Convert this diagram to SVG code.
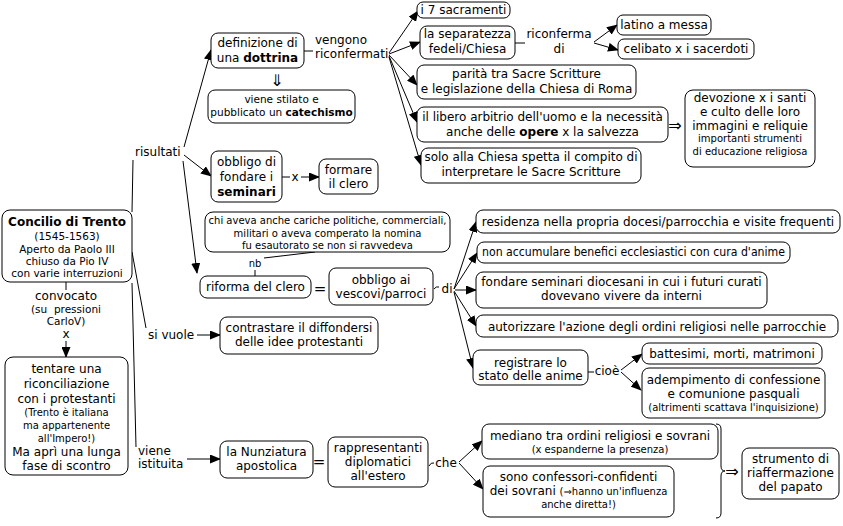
<svg xmlns="http://www.w3.org/2000/svg" width="843" height="526" viewBox="0 0 843 526">
<defs>
<marker id="ah" markerWidth="11" markerHeight="9" refX="10" refY="4.5" orient="auto" markerUnits="userSpaceOnUse"><path d="M0,0 L11,4.5 L0,9 z" fill="#000"/></marker>
<style>
rect{fill:#fff;stroke:#000;stroke-width:1}
text{font-family:"DejaVu Sans",Verdana,sans-serif;font-size:12px;fill:#000}
.c{text-anchor:middle}
.s{font-size:10px}
.m{font-size:10.5px}
.b{font-weight:bold}
.e{font-size:15px}
.ar{font-size:16px}
#conn line,#conn path,#conn polyline{stroke:#000;stroke-width:1;fill:none}
.a{marker-end:url(#ah)}
</style>
</defs>
<rect x="0" y="0" width="843" height="526" style="fill:#fff;stroke:none"/>
<g id="conn">
<line x1="66" y1="282" x2="66" y2="290"/>
<line class="a" x1="66" y1="341" x2="66" y2="357"/>
<line x1="132" y1="212" x2="133" y2="160"/>
<line x1="132" y1="252" x2="146" y2="328"/>
<line x1="132" y1="283" x2="136" y2="447"/>
<line class="a" x1="184" y1="147" x2="211" y2="50"/>
<line class="a" x1="184" y1="155" x2="211" y2="176"/>
<line class="a" x1="183" y1="161" x2="197" y2="273"/>
<line x1="304" y1="51" x2="313" y2="51"/>
<line x1="282" y1="177" x2="290" y2="177"/>
<line class="a" x1="301" y1="177" x2="319" y2="177"/>
<line class="a" x1="389" y1="53" x2="418" y2="11"/>
<line class="a" x1="389" y1="54" x2="420" y2="42"/>
<line class="a" x1="389" y1="55" x2="417" y2="85"/>
<line class="a" x1="389" y1="56" x2="417" y2="122"/>
<line class="a" x1="389" y1="57" x2="421" y2="165"/>
<line x1="515" y1="43" x2="525" y2="43"/>
<line class="a" x1="594" y1="42" x2="617" y2="25"/>
<line class="a" x1="594" y1="43" x2="618" y2="50"/>
<line x1="264" y1="258" x2="315" y2="252"/>
<line x1="255" y1="270" x2="255" y2="276"/>
<path d="M434,289 Q436,286 439,287"/>
<line class="a" x1="454" y1="289" x2="476" y2="222"/>
<line class="a" x1="454" y1="289" x2="477" y2="253"/>
<line class="a" x1="455" y1="290" x2="476" y2="290"/>
<line class="a" x1="454" y1="291" x2="476" y2="326"/>
<line class="a" x1="454" y1="292" x2="473" y2="368"/>
<line x1="588" y1="372" x2="594" y2="372"/>
<line class="a" x1="621" y1="370" x2="642" y2="354"/>
<line class="a" x1="621" y1="372" x2="641" y2="390"/>
<line class="a" x1="197" y1="335" x2="220" y2="335"/>
<line class="a" x1="187" y1="459" x2="220" y2="459"/>
<path d="M429,466 Q431,462 434,463"/>
<line class="a" x1="459" y1="462" x2="482" y2="441"/>
<line class="a" x1="459" y1="463" x2="483" y2="489"/>
<path d="M716,424 Q721,424 721,429 L721,466 Q721,471 725,471 Q721,471 721,476 L721,513 Q721,518 716,518"/>
</g>
<g id="concilio"><rect x="2" y="210" width="130" height="72" rx="8"/>
<text class="c b" x="67" y="226">Concilio di Trento</text>
<text class="c m" x="67" y="240">(1545-1563)</text>
<text class="c m" x="67" y="253">Aperto da Paolo III</text>
<text class="c m" x="67" y="265">chiuso da Pio IV</text>
<text class="c m" x="67" y="277">con varie interruzioni</text></g>
<g id="convocato"><text class="c" x="66" y="300">convocato</text>
<text class="c m" x="66" y="313">(su&#160; pressioni</text>
<text class="c m" x="66" y="325">CarloV)</text>
<text class="c" x="66" y="338">x</text></g>
<g id="tentare"><rect x="5" y="357" width="123" height="118" rx="8"/>
<text class="c" x="66.5" y="373">tentare una</text>
<text class="c" x="66.5" y="388">riconciliazione</text>
<text class="c" x="66.5" y="403">con i protestanti</text>
<text class="c s" x="66.5" y="416">(Trento è italiana</text>
<text class="c s" x="66.5" y="429">ma appartenente</text>
<text class="c s" x="66.5" y="442">all'Impero!)</text>
<text class="c" x="66.5" y="456">Ma aprì una lunga</text>
<text class="c" x="66.5" y="470">fase di scontro</text></g>
<g id="risultati"><text x="135" y="156">risultati</text></g>
<g id="definizione"><rect x="211" y="33" width="93" height="35" rx="7"/>
<text class="c" x="257.5" y="47">definizione di</text>
<text class="c" x="257.5" y="62">una <tspan class="b">dottrina</tspan></text></g>
<g id="vengono"><text x="315" y="44">vengono</text><text x="315" y="58">riconfermati</text></g>
<g id="freccia1"><text class="c ar" x="277" y="86">⇓</text></g>
<g id="catechismo"><rect x="208" y="90" width="147" height="33" rx="7"/>
<text class="c m" x="281.5" y="103">viene stilato e</text>
<text class="c m" x="281.5" y="116">pubblicato un <tspan class="b">catechismo</tspan></text></g>
<g id="seminari"><rect x="211" y="151" width="71" height="51" rx="7"/>
<text class="c" x="246.5" y="166">obbligo di</text>
<text class="c" x="246.5" y="181">fondare i</text>
<text class="c b" x="246.5" y="196">seminari</text></g>
<g id="x1"><text class="c" x="295" y="181">x</text></g>
<g id="formare"><rect x="319" y="159" width="59" height="35" rx="7"/>
<text class="c" x="348.5" y="174">formare</text>
<text class="c" x="348.5" y="188">il clero</text></g>
<g id="sacramenti"><rect x="417" y="2" width="93" height="16" rx="6"/>
<text class="c" x="463.5" y="14">i 7 sacramenti</text></g>
<g id="separatezza"><rect x="420" y="26" width="95" height="33" rx="7"/>
<text class="c" x="467.5" y="38">la separatezza</text>
<text class="c" x="467.5" y="53">fedeli/Chiesa</text></g>
<g id="riconferma"><text class="c" x="559" y="38">riconferma</text><text class="c" x="559" y="53">di</text></g>
<g id="latino"><rect x="617" y="15" width="94" height="20" rx="6"/>
<text class="c" x="664" y="29">latino a messa</text></g>
<g id="celibato"><rect x="618" y="39" width="136" height="20" rx="6"/>
<text class="c" x="686" y="53">celibato x i sacerdoti</text></g>
<g id="parita"><rect x="417" y="65" width="219" height="34" rx="7"/>
<text class="c" x="526.5" y="78">parità tra Sacre Scritture</text>
<text class="c" x="526.5" y="93">e legislazione della Chiesa di Roma</text></g>
<g id="libero"><rect x="417" y="107" width="251" height="35" rx="7"/>
<text class="c" x="542.5" y="121">il libero arbitrio dell'uomo e la necessità</text>
<text class="c" x="542.5" y="136">anche delle <tspan class="b">opere</tspan> x la salvezza</text></g>
<g id="freccia2"><text class="c ar" x="675" y="131">⇒</text></g>
<g id="devozione"><rect x="685" y="90" width="130" height="77" rx="8"/>
<text class="c" x="750" y="102">devozione x i santi</text>
<text class="c" x="750" y="116">e culto delle loro</text>
<text class="c" x="750" y="130">immagini e reliquie</text>
<text class="c s" x="750" y="142">importanti strumenti</text>
<text class="c s" x="750" y="155">di educazione religiosa</text></g>
<g id="solo"><rect x="421" y="148" width="220" height="35" rx="7"/>
<text class="c" x="531" y="161">solo alla Chiesa spetta il compito di</text>
<text class="c" x="531" y="176">interpretare le Sacre Scritture</text></g>
<g id="chiaveva"><rect x="205" y="212" width="245" height="40" rx="8"/>
<text class="c s" x="327.5" y="224">chi aveva anche cariche politiche, commerciali,</text>
<text class="c s" x="327.5" y="237">militari o aveva comperato la nomina</text>
<text class="c s" x="327.5" y="249">fu esautorato se non si ravvedeva</text></g>
<g id="nb"><text class="c s" x="255" y="267">nb</text></g>
<g id="riforma"><rect x="200" y="276" width="111" height="22" rx="7"/>
<text class="c" x="255.5" y="291">riforma del clero</text></g>
<g id="eq1"><text class="c e" x="320" y="294">=</text></g>
<g id="vescovi"><rect x="329" y="268" width="104" height="37" rx="7"/>
<text class="c" x="381" y="284">obbligo ai</text>
<text class="c" x="381" y="298">vescovi/parroci</text></g>
<g id="di"><text class="c" x="447" y="293">di</text></g>
<g id="residenza"><rect x="476" y="210" width="364" height="23" rx="7"/>
<text class="c" x="658" y="226">residenza nella propria docesi/parrocchia e visite frequenti</text></g>
<g id="benefici"><rect x="477" y="242" width="313" height="21" rx="7"/>
<text class="c" x="633.5" y="256" textLength="303" lengthAdjust="spacingAndGlyphs">non accumulare benefici ecclesiastici con cura d'anime</text></g>
<g id="fondare"><rect x="476" y="272" width="291" height="36" rx="7"/>
<text class="c" x="621.5" y="286">fondare seminari diocesani in cui i futuri curati</text>
<text class="c" x="621.5" y="300">dovevano vivere da interni</text></g>
<g id="autorizzare"><rect x="476" y="315" width="362" height="22" rx="7"/>
<text class="c" x="657" y="331">autorizzare l'azione degli ordini religiosi nelle parrocchie</text></g>
<g id="registrare"><rect x="473" y="350" width="115" height="35" rx="7"/>
<text class="c" x="530.5" y="367">registrare lo</text>
<text class="c" x="530.5" y="380">stato delle anime</text></g>
<g id="cioe"><text class="c" x="607" y="375">cioè</text></g>
<g id="battesimi"><rect x="642" y="343" width="180" height="21" rx="7"/>
<text class="c" x="732" y="358">battesimi, morti, matrimoni</text></g>
<g id="adempimento"><rect x="642" y="368" width="183" height="50" rx="7"/>
<text class="c" x="733.5" y="384">adempimento di confessione</text>
<text class="c" x="733.5" y="398">e comunione pasquali</text>
<text class="c s" x="733.5" y="411">(altrimenti scattava l'inquisizione)</text></g>
<g id="sivuole"><text x="148" y="339">si vuole</text></g>
<g id="contrastare"><rect x="220" y="317" width="158" height="37" rx="7"/>
<text class="c" x="299" y="332">contrastare il diffondersi</text>
<text class="c" x="299" y="346">delle idee protestanti</text></g>
<g id="viene"><text x="138" y="455">viene</text><text x="138" y="468">istituita</text></g>
<g id="nunziatura"><rect x="220" y="441" width="93" height="37" rx="7"/>
<text class="c" x="266.5" y="456">la Nunziatura</text>
<text class="c" x="266.5" y="470">apostolica</text></g>
<g id="eq2"><text class="c e" x="319" y="467">=</text></g>
<g id="rappresentanti"><rect x="328" y="437" width="100" height="50" rx="7"/>
<text class="c" x="378" y="452">rappresentanti</text>
<text class="c" x="378" y="466">diplomatici</text>
<text class="c" x="378" y="480">all'estero</text></g>
<g id="che"><text class="c" x="446" y="467">che</text></g>
<g id="mediano"><rect x="482" y="424" width="236" height="35" rx="7"/>
<text class="c" x="600" y="440">mediano tra ordini religiosi e sovrani</text>
<text class="c s" x="600" y="453">(x espanderne la presenza)</text></g>
<g id="confessori"><rect x="483" y="466" width="191" height="51" rx="7"/>
<text class="c" x="578.5" y="481">sono confessori-confidenti</text>
<text class="c" x="578.5" y="495">dei sovrani <tspan class="s">(⇒hanno un'influenza</tspan></text>
<text class="c s" x="578.5" y="508">anche diretta!)</text></g>
<g id="freccia3"><text class="c ar" x="732" y="477">⇒</text></g>
<g id="strumento"><rect x="742" y="448" width="97" height="51" rx="7"/>
<text class="c" x="790.5" y="463">strumento di</text>
<text class="c" x="790.5" y="477">riaffermazione</text>
<text class="c" x="790.5" y="491">del papato</text></g>
</svg>
